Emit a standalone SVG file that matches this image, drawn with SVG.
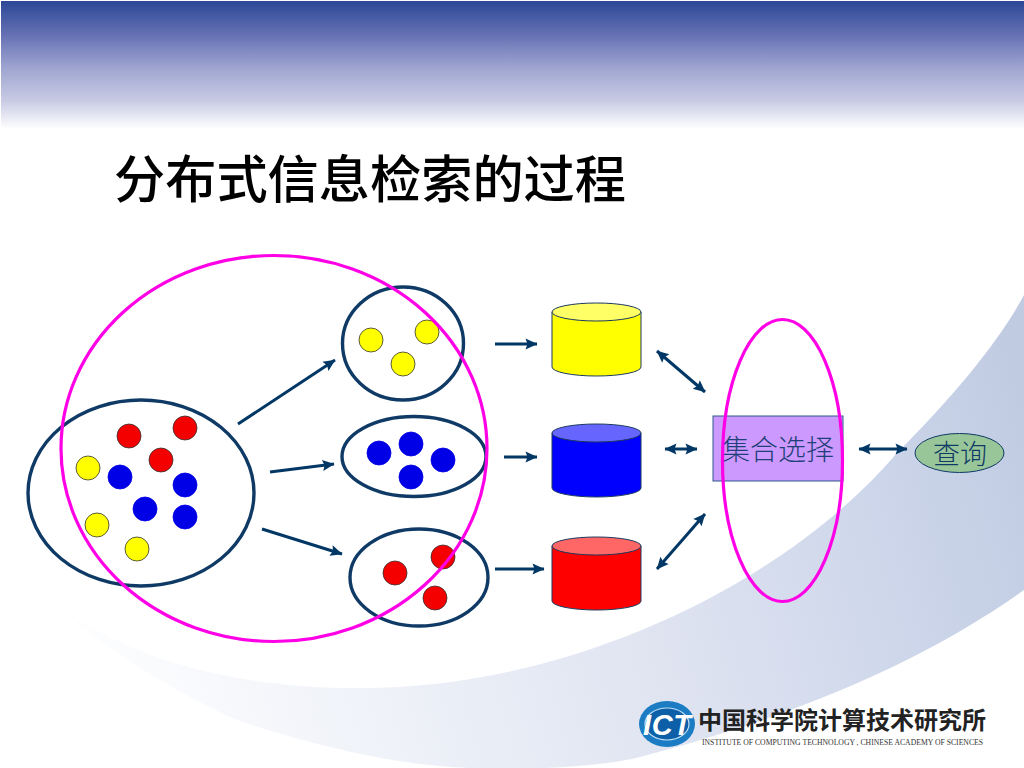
<svg xmlns="http://www.w3.org/2000/svg" width="1024" height="768" viewBox="0 0 1024 768">
<defs>
<linearGradient id="hdr" x1="0" y1="0" x2="0" y2="1">
<stop offset="0" stop-color="#2b4897"/><stop offset="0.26" stop-color="#6470b3"/><stop offset="0.52" stop-color="#9ea4d0"/><stop offset="0.78" stop-color="#c9cbe4"/><stop offset="1" stop-color="#ffffff"/>
</linearGradient>
<linearGradient id="sw" gradientUnits="userSpaceOnUse" x1="60" y1="660" x2="1024" y2="380">
<stop offset="0" stop-color="#ffffff"/><stop offset="0.09" stop-color="#fafbfd"/><stop offset="0.31" stop-color="#eef1f8"/><stop offset="0.61" stop-color="#dde2f0"/><stop offset="0.82" stop-color="#cdd6ea"/><stop offset="1" stop-color="#c0cbe2"/>
</linearGradient>
<marker id="ah" markerUnits="userSpaceOnUse" markerWidth="14" markerHeight="14" viewBox="0 0 14 14" refX="12.5" refY="7" orient="auto-start-reverse">
<path d="M1 1.5 L13 7 L1 12.5 L3 7 Z" fill="#003764"/>
</marker>
<style>
.t{font-family:"Noto Sans CJK SC",sans-serif}
.set{fill:none;stroke:#0f3a66;stroke-width:3.4}
.ring{fill:none;stroke:#ff00e6;stroke-width:3.2}
.dot{stroke:#333;stroke-width:0.8}
.y{fill:#ffff00}.b{fill:#0000e6;stroke:#0000e6}.r{fill:#f50000}
.cyl{stroke:#1c3a5e;stroke-width:1}
.a{fill:none;stroke:#003764;stroke-width:3;marker-end:url(#ah)}
.d{fill:none;stroke:#003764;stroke-width:3;marker-end:url(#ah);marker-start:url(#ah)}
</style>
</defs>
<rect width="1024" height="768" fill="#ffffff"/>
<g id="background">
<rect x="1" y="1" width="1023" height="128" fill="url(#hdr)"/>
<path d="M40 592 C90 635 190 688 357 688 C560 690 780 590 897 453 C955 395 1000 340 1024 295 L1024 590 C940 650 820 710 640 757 C620 762 590 766 545 768 L470 768 C400 766 310 745 237 720 C170 690 90 640 40 592 Z" fill="url(#sw)"/>
</g>
<text id="title" class="t" x="114" y="198" font-size="51.2" font-weight="500" fill="#000000" textLength="512">分布式信息检索的过程</text>
<g id="connectors">
<path class="a" d="M238 424 L335 360"/>
<path class="a" d="M270 472 L334 464"/>
<path class="a" d="M262 529 L342 554"/>
<path class="a" d="M495 344 L537 344"/>
<path class="a" d="M504 457 L537 457"/>
<path class="a" d="M495 569 L544 569"/>
<path class="d" d="M657 351 L705 392"/>
<path class="d" d="M665 449 L697 449"/>
<path class="d" d="M657 569 L705 514"/>
<path class="d" d="M859 449 L907 449"/>
</g>
<g id="all-docs">
<ellipse class="set" cx="141" cy="493" rx="113" ry="93"/>
<circle class="dot r" cx="129" cy="436" r="12"/><circle class="dot r" cx="185" cy="428" r="12"/><circle class="dot r" cx="161" cy="460" r="12"/>
<circle class="dot y" cx="88" cy="468" r="12"/><circle class="dot y" cx="97" cy="525" r="12"/><circle class="dot y" cx="137" cy="549" r="12"/>
<circle class="dot b" cx="120" cy="477" r="12"/><circle class="dot b" cx="185" cy="485" r="12"/><circle class="dot b" cx="145" cy="509" r="12"/><circle class="dot b" cx="185" cy="517" r="12"/>
</g>
<g id="set-yellow">
<ellipse class="set" cx="403" cy="343.5" rx="60.5" ry="56.5"/>
<circle class="dot y" cx="371" cy="340" r="12"/><circle class="dot y" cx="427" cy="332" r="12"/><circle class="dot y" cx="403" cy="364" r="12"/>
</g>
<g id="set-blue">
<ellipse class="set" cx="414" cy="456.5" rx="72" ry="40"/>
<circle class="dot b" cx="379" cy="453" r="12"/><circle class="dot b" cx="411" cy="444" r="12"/><circle class="dot b" cx="443" cy="460" r="12"/><circle class="dot b" cx="411" cy="477" r="12"/>
</g>
<g id="set-red">
<ellipse class="set" cx="419" cy="577.5" rx="69" ry="48.5"/>
<circle class="dot r" cx="395" cy="573" r="12"/><circle class="dot r" cx="443" cy="557" r="12"/><circle class="dot r" cx="435" cy="598" r="12"/>
</g>
<g id="db-yellow">
<path class="cyl" d="M552 312 V367 A44.5 9 0 0 0 641 367 V312 Z" fill="#ffff00"/>
<ellipse class="cyl" cx="596.5" cy="312" rx="44.5" ry="9" fill="#ffff66"/>
</g>
<g id="db-blue">
<path class="cyl" d="M552 433 V488 A44.5 9 0 0 0 641 488 V433 Z" fill="#0000ff"/>
<ellipse class="cyl" cx="596.5" cy="433" rx="44.5" ry="9" fill="#6666ff"/>
</g>
<g id="db-red">
<path class="cyl" d="M552 546 V601 A44.5 9 0 0 0 641 601 V546 Z" fill="#ff0000"/>
<ellipse class="cyl" cx="596.5" cy="546" rx="44.5" ry="9" fill="#ff6666"/>
</g>
<g id="selection">
<rect x="713" y="416" width="130" height="65" fill="#cc99ff" stroke="#2f5a8a" stroke-width="1"/>
<text class="t" x="722" y="460" font-size="28" font-weight="300" fill="#1f3f78" textLength="112">集合选择</text>
</g>
<g id="query">
<ellipse cx="959.5" cy="453" rx="44.5" ry="19.5" fill="#99c699" stroke="#0f3a66" stroke-width="1"/>
<text class="t" x="933" y="464" font-size="27" font-weight="300" fill="#0f3a66" textLength="54">查询</text>
</g>
<g id="highlights">
<ellipse class="ring" cx="274" cy="448.5" rx="213" ry="193"/>
<ellipse class="ring" cx="782.5" cy="460.5" rx="60" ry="141"/>
</g>
<g id="logo">
<ellipse cx="667" cy="724" rx="28" ry="23" fill="#1b7cc4"/>
<ellipse cx="667" cy="724" rx="22" ry="16" fill="#0d5fa8" stroke="#bfe0f5" stroke-width="1.2"/>
<text x="667" y="735" text-anchor="middle" font-family="'Liberation Sans',sans-serif" font-size="29" font-weight="700" font-style="italic" fill="#ffffff" textLength="48">ICT</text>
<text class="t" x="698" y="729" font-size="24" font-weight="700" fill="#222222" textLength="288">中国科学院计算技术研究所</text>
<text x="702" y="745" font-family="'Liberation Serif',serif" font-size="7.4" fill="#333333" textLength="281" lengthAdjust="spacingAndGlyphs">INSTITUTE OF COMPUTING TECHNOLOGY , CHINESE ACADEMY OF SCIENCES</text>
</g>
</svg>
